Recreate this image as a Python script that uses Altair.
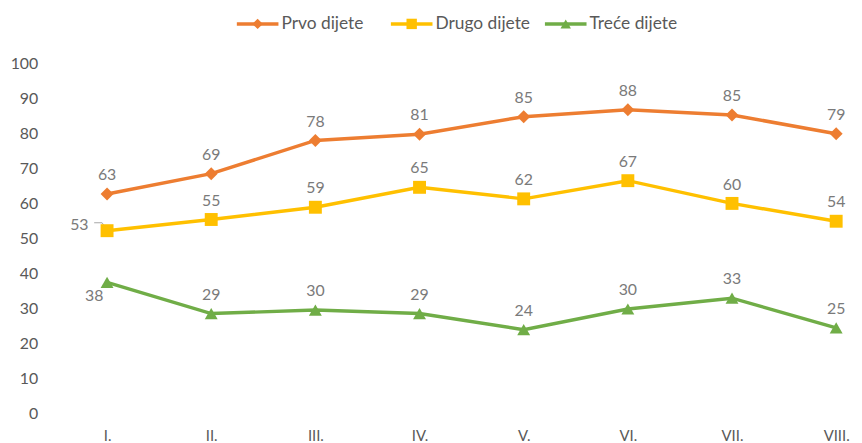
import altair as alt
import pandas as pd

months = ["I.", "II.", "III.", "IV.", "V.", "VI.", "VII.", "VIII."]
series = ["Prvo dijete", "Drugo dijete", "Treće dijete"]
colors = ["#ED7D31", "#FFC000", "#70AD47"]
shapes = ["diamond", "square", "triangle-up"]

prvo = [62.7, 68.5, 78.0, 79.8, 84.8, 86.8, 85.3, 79.9]
prvo_lbl = [63, 69, 78, 81, 85, 88, 85, 79]
drugo = [52.2, 55.4, 58.9, 64.6, 61.3, 66.5, 60.0, 54.9]
drugo_lbl = [53, 55, 59, 65, 62, 67, 60, 54]
trece = [37.4, 28.5, 29.5, 28.5, 23.9, 29.8, 32.9, 24.4]
trece_lbl = [38, 29, 30, 29, 24, 30, 33, 25]

rows = []
for name, vals, lbls in zip(series, [prvo, drugo, trece], [prvo_lbl, drugo_lbl, trece_lbl]):
    for m, v, l in zip(months, vals, lbls):
        rows.append({"month": m, "series": name, "value": v, "label": str(l)})
df = pd.DataFrame(rows)
legend_df = pd.DataFrame({"series": series})

FONT = "Lato"
color = alt.Color("series:N", scale=alt.Scale(domain=series, range=colors), legend=None)
shape = alt.Shape("series:N", scale=alt.Scale(domain=series, range=shapes), legend=None)

xenc = alt.X("month:N", sort=months,
             scale=alt.Scale(type="point", range=[53, 789], padding=0),
             axis=alt.Axis(title=None, labelAngle=0, domain=False, ticks=False,
                           labelPadding=16, labelFontSize=15, labelColor="#595959",
                           labelFont=FONT, grid=False))
yenc = alt.Y("value:Q", scale=alt.Scale(domain=[0, 100], nice=False),
             axis=alt.Axis(title=None, values=list(range(0, 101, 10)), domain=False,
                           ticks=False, grid=False, labelPadding=17, labelFontSize=16,
                           labelColor="#595959", labelFont=FONT))

base = alt.Chart(df).encode(x=xenc, y=yenc, color=color)

lines = base.mark_line(strokeWidth=3.5)
points = base.mark_point(filled=True, size=170, opacity=1).encode(shape=shape)

first_special = ("(datum.series == 'Drugo dijete' && datum.month == 'I.') || "
                 "(datum.series == 'Treće dijete' && datum.month == 'I.')")
labels = base.mark_text(dy=-19, fontSize=16, font=FONT).encode(
    text="label:N", color=alt.value("#7a7a7a")
).transform_filter("!(" + first_special + ")")
lbl_53 = base.mark_text(dx=-28, dy=-6, fontSize=16, font=FONT).encode(
    text="label:N", color=alt.value("#7a7a7a")
).transform_filter("datum.series == 'Drugo dijete' && datum.month == 'I.'")
lbl_38 = base.mark_text(dx=-13, dy=14, fontSize=16, font=FONT).encode(
    text="label:N", color=alt.value("#7a7a7a")
).transform_filter("datum.series == 'Treće dijete' && datum.month == 'I.'")

leader_h = alt.Chart(df).transform_filter(
    "datum.series == 'Drugo dijete' && datum.month == 'I.'"
).mark_rule(color="#a6a6a6", strokeWidth=1, xOffset=-13, x2Offset=-5, yOffset=-8, y2Offset=-8).encode(
    x=xenc, x2="month:N", y=yenc, y2="value:Q")
leader_d = alt.Chart(df).transform_filter(
    "datum.series == 'Drugo dijete' && datum.month == 'I.'"
).mark_rule(color="#a6a6a6", strokeWidth=1, xOffset=-5, x2Offset=-1, yOffset=-8, y2Offset=-2).encode(
    x=xenc, x2="month:N", y=yenc, y2="value:Q")

main = alt.layer(lines, leader_h, leader_d, points, labels, lbl_53, lbl_38)

lx = alt.X("series:N", sort=series,
           scale=alt.Scale(type="point", range=[205, 516], padding=0),
           axis=None)
lcolor = alt.Color("series:N", scale=alt.Scale(domain=series, range=colors), legend=None)
leg_line = alt.Chart(legend_df).mark_rule(strokeWidth=3.5, xOffset=-21, x2Offset=21).encode(
    x=lx, x2="series:N", y=alt.value(-40), color=lcolor)
leg_pt = alt.Chart(legend_df).mark_point(filled=True, size=110, opacity=1).encode(
    x=lx, y=alt.value(-40), color=lcolor,
    shape=alt.Shape("series:N", scale=alt.Scale(domain=series, range=shapes), legend=None))
leg_txt = alt.Chart(legend_df).mark_text(align="left", baseline="middle", dx=24,
                                         fontSize=17.5, font=FONT).encode(
    x=lx, y=alt.value(-40), text="series:N", color=alt.value("#595959"))
legend = alt.layer(leg_line, leg_pt, leg_txt)

chart = alt.layer(main, legend).resolve_scale(x="independent").resolve_axis(
    x="independent", y="independent"
).properties(
    width=807, height=353,
    padding={"left": 47, "top": 54, "right": 0, "bottom": 28},
    autosize=alt.AutoSizeParams(type="none"),
    view=alt.ViewBackground(stroke=None),
).configure_view(stroke=None, strokeWidth=0).configure_axis(
    domain=False, grid=False, ticks=False,
    domainColor="transparent", gridColor="transparent", tickColor="transparent"
).configure(font=FONT)

chart.save("out.html", embed_options={"renderer": "svg", "actions": False})
